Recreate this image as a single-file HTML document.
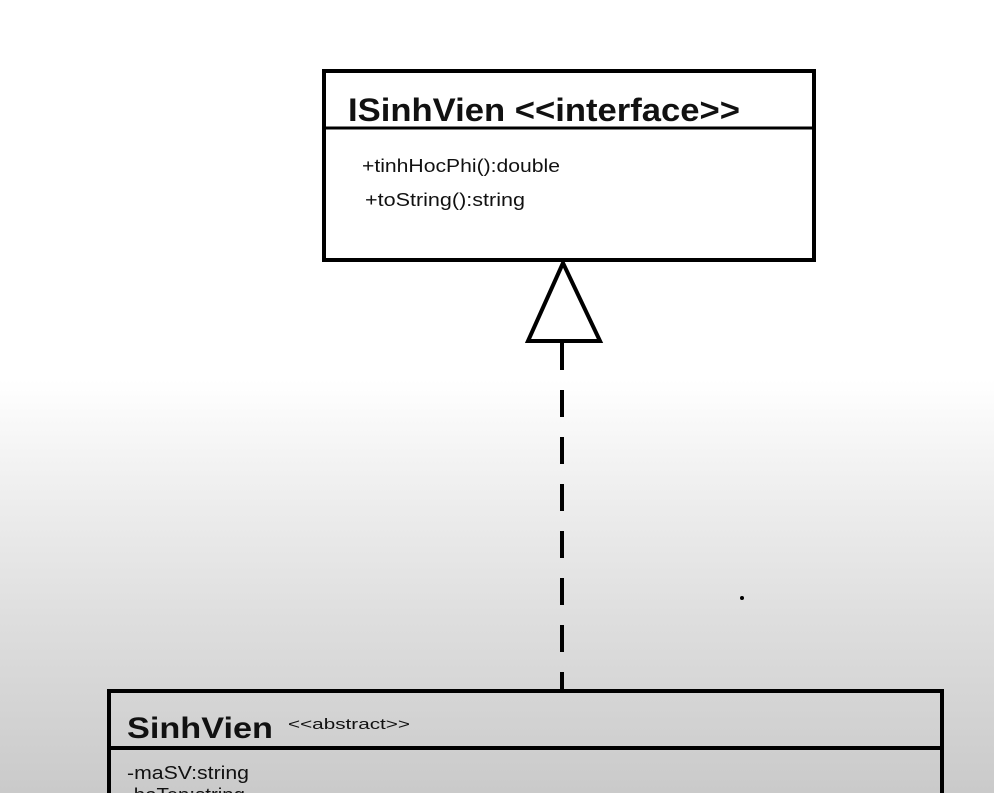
<!DOCTYPE html>
<html><head><meta charset="utf-8"><style>
html,body{margin:0;padding:0;}
body{width:994px;height:793px;overflow:hidden;background:linear-gradient(to bottom,#fff 0px,#fff 380px,#f0f0f0 480px,#dedede 620px,#cacaca 793px);}
svg{display:block}
text{font-family:"Liberation Sans",sans-serif;fill:#111}
</style></head><body>
<svg width="994" height="793" xmlns="http://www.w3.org/2000/svg">
<rect x="324" y="71" width="490" height="189" fill="none" stroke="#000" stroke-width="4"/>
<line x1="324" y1="128" x2="814" y2="128" stroke="#000" stroke-width="3"/>
<text x="348" y="121" font-size="32" font-weight="bold" textLength="392" lengthAdjust="spacingAndGlyphs">ISinhVien &lt;&lt;interface&gt;&gt;</text>
<text x="362" y="172" font-size="18" textLength="198" lengthAdjust="spacingAndGlyphs">+tinhHocPhi():double</text>
<text x="365" y="206" font-size="18" textLength="160" lengthAdjust="spacingAndGlyphs">+toString():string</text>
<polygon points="563,263 528,341 600,341" fill="#fff" stroke="#000" stroke-width="4" stroke-linejoin="miter"/>
<line x1="562" y1="343" x2="562" y2="690" stroke="#000" stroke-width="4" stroke-dasharray="27,20"/>
<circle cx="742" cy="598" r="2" fill="#000"/>
<rect x="109" y="691" width="833" height="120" fill="none" stroke="#000" stroke-width="4"/>
<line x1="109" y1="748" x2="942" y2="748" stroke="#000" stroke-width="4"/>
<text x="127" y="738" font-size="30" font-weight="bold" textLength="146" lengthAdjust="spacingAndGlyphs">SinhVien</text>
<text x="288" y="729" font-size="15" textLength="122" lengthAdjust="spacingAndGlyphs">&lt;&lt;abstract&gt;&gt;</text>
<text x="127" y="779" font-size="18" textLength="122" lengthAdjust="spacingAndGlyphs">-maSV:string</text>
<text x="127" y="801" font-size="18" textLength="118" lengthAdjust="spacingAndGlyphs">-hoTen:string</text>
</svg>
</body></html>
